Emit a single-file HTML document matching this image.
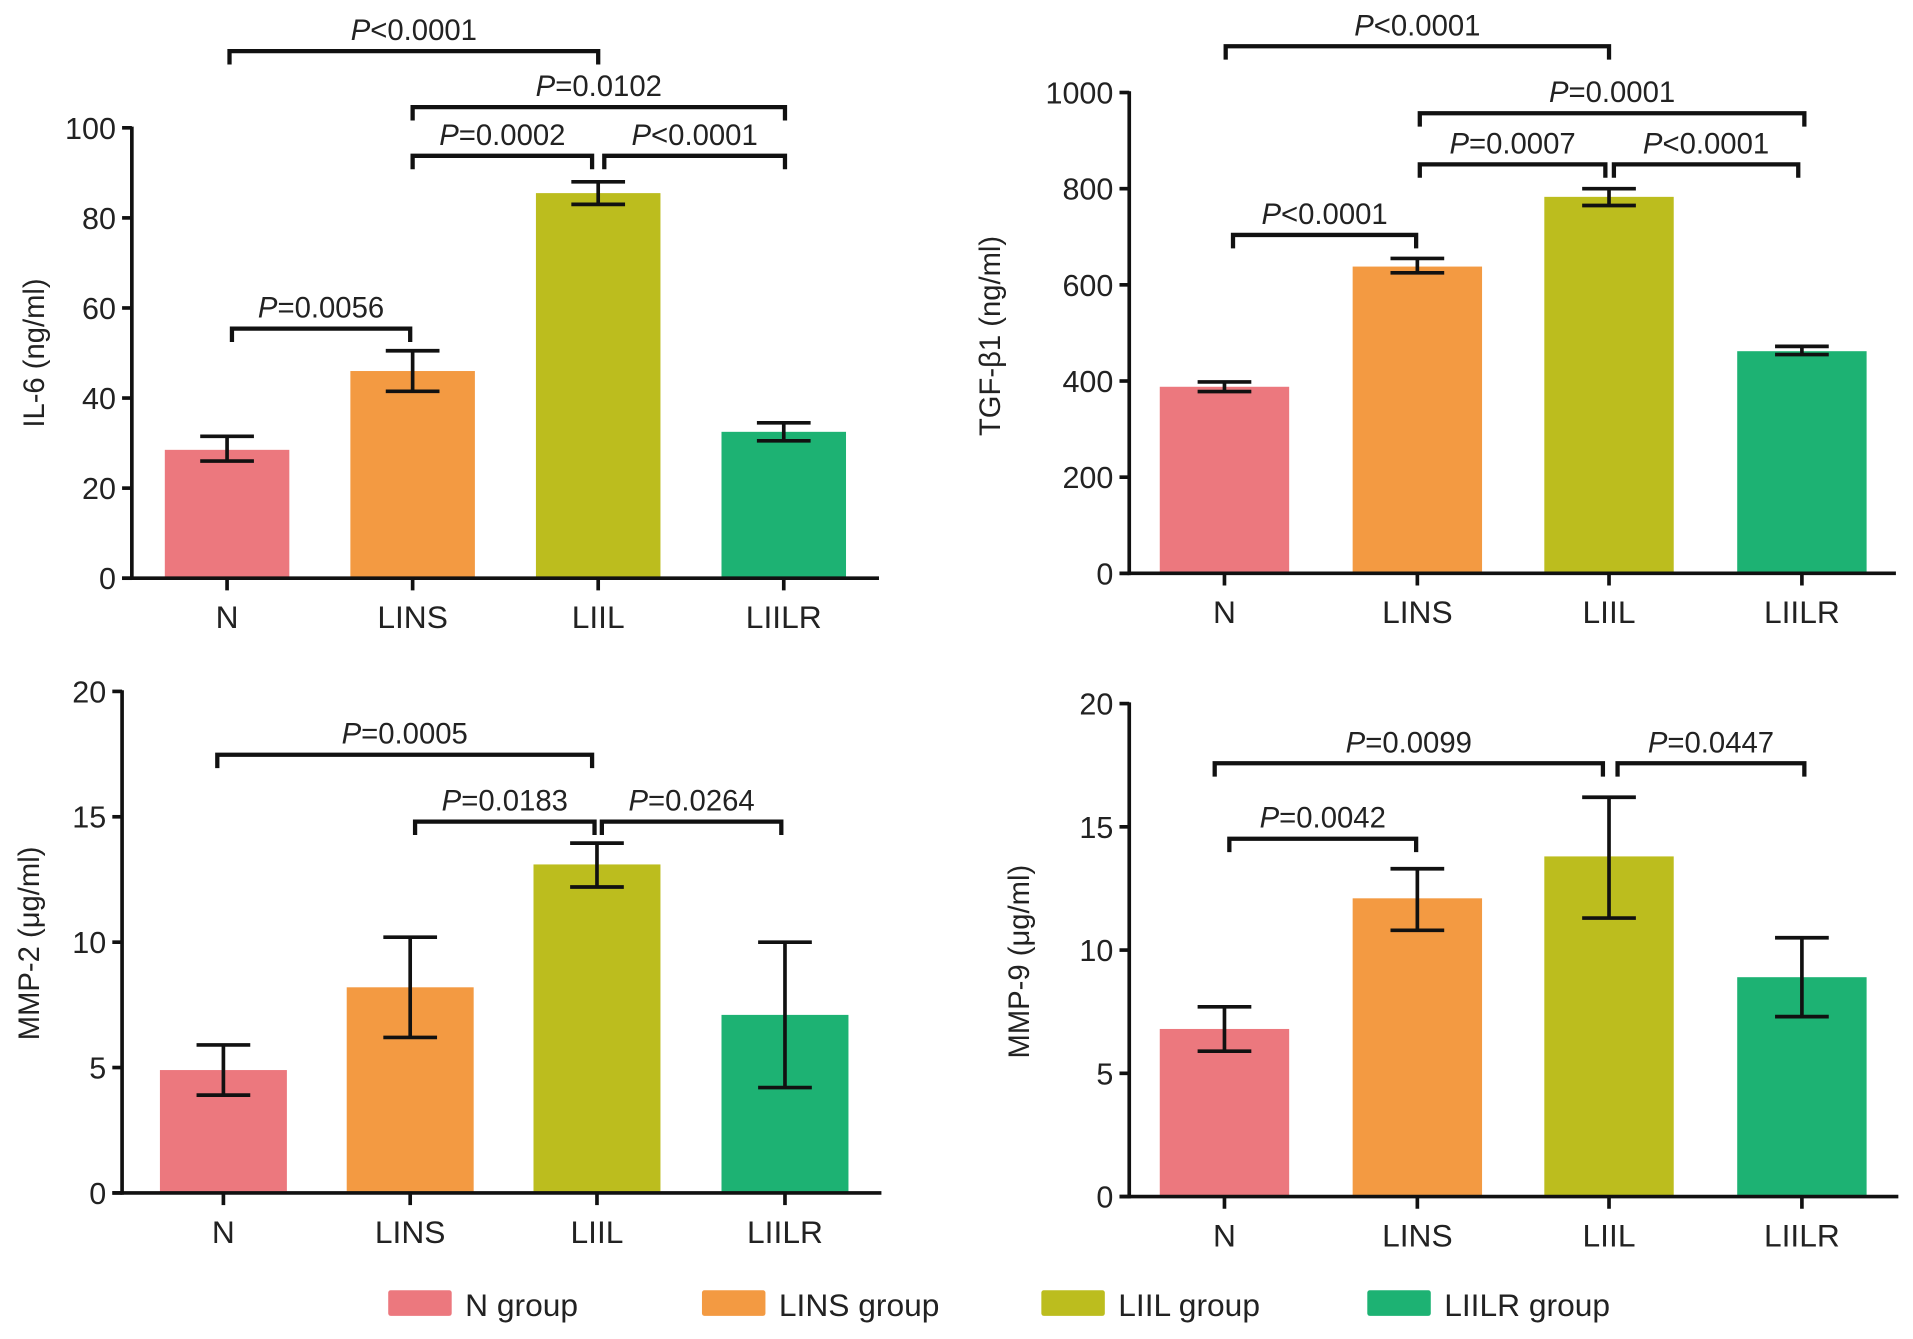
<!DOCTYPE html>
<html><head><meta charset="utf-8"><style>
html,body{margin:0;padding:0;background:#fff;}
svg{display:block;font-family:"Liberation Sans",sans-serif;}
</style></head><body>
<svg id="fig" width="1913" height="1339" viewBox="0 0 1567 1100" preserveAspectRatio="none" xmlns="http://www.w3.org/2000/svg"></svg>
<script>
const categories = ["N","LINS","LIIL","LIILR"];
const groupNames = ["N group","LINS group","LIIL group","LIILR group"];
const colors = ["#ec787e","#f39a42","#bcbd1e","#1db273"];
const il6Means = [28.5,46,85.5,32.5];
const il6Low = [26,41.5,83,30.5];
const il6High = [31.5,50.5,88,34.5];
const il6Ticks = [0,20,40,60,80,100];
const tgfMeans = [388,638,783,462];
const tgfLow = [378,625,765,455];
const tgfHigh = [398,655,800,472];
const tgfTicks = [0,200,400,600,800,1000];
const mmp2Means = [4.9,8.2,13.1,7.1];
const mmp2Low = [3.9,6.2,12.2,4.2];
const mmp2High = [5.9,10.2,13.95,10];
const mmp2Ticks = [0,5,10,15,20];
const mmp9Means = [6.8,12.1,13.8,8.9];
const mmp9Low = [5.9,10.8,11.3,7.3];
const mmp9High = [7.7,13.3,16.2,10.5];
const mmp9Ticks = [0,5,10,15,20];

const NS="http://www.w3.org/2000/svg";
const svg=document.getElementById('fig');
function mk(tag,attrs,parent){const e=document.createElementNS(NS,tag);for(const k in attrs)e.setAttribute(k,attrs[k]);(parent||svg).appendChild(e);return e;}

function panel(cfg){
  const g=mk('g',{});
  
  
  const y=v=>cfg.y0-(v/cfg.max)*(cfg.y0-cfg.y1);
  const xs=cfg.centers;
  cfg.means.forEach((m,i)=>{
    const r=mk('rect',{x:xs[i]-cfg.bw/2,y:y(m),width:cfg.bw,height:cfg.y0-y(m),fill:colors[i]},g);
    
    
    const eg=mk('g',{stroke:'#111','stroke-width':3,fill:'none'},g);
    
    
    mk('line',{x1:xs[i],x2:xs[i],y1:y(cfg.low[i]),y2:y(cfg.high[i])},eg);
    mk('line',{x1:xs[i]-22,x2:xs[i]+22,y1:y(cfg.low[i]),y2:y(cfg.low[i])},eg);
    mk('line',{x1:xs[i]-22,x2:xs[i]+22,y1:y(cfg.high[i]),y2:y(cfg.high[i])},eg);
  });
  const ax=mk('g',{stroke:'#111','stroke-width':3},g);
  
  
  mk('line',{x1:cfg.ax,x2:cfg.ax,y1:cfg.y1-1,y2:cfg.y0+1.5},ax);
  mk('line',{x1:cfg.ax-8,x2:cfg.axEnd,y1:cfg.y0,y2:cfg.y0},ax);
  cfg.ticks.forEach(t=>{
    mk('line',{x1:cfg.ax-8,x2:cfg.ax,y1:y(t),y2:y(t)},ax);
    const tx=mk('text',{x:cfg.ax-13,y:y(t)+9,'text-anchor':'end','font-size':25,fill:'#222'},g);
    tx.textContent=t;
    
    
  });
  xs.forEach((cx,i)=>{
    mk('line',{x1:cx,x2:cx,y1:cfg.y0,y2:cfg.y0+10},ax);
    const tx=mk('text',{x:cx,y:cfg.y0+41,'text-anchor':'middle','font-size':26,fill:'#222'},g);
    tx.textContent=categories[i];
    
    
  });
  const yl=mk('text',{x:0,y:0,transform:`translate(${cfg.labX},${cfg.labY}) rotate(-90)`,'text-anchor':'middle','font-size':24,fill:'#222'},g);
  yl.textContent=cfg.ylabel;
  
  
  cfg.brackets.forEach(b=>{
    const bg=mk('g',{},g);
    
    
    mk('path',{d:`M${b[0]},${b[2]+11}V${b[2]}H${b[1]}V${b[2]+11}`,stroke:'#111','stroke-width':3.5,fill:'none'},bg);
    const t=mk('text',{x:(b[0]+b[1])/2,y:b[2]-9,'text-anchor':'middle','font-size':24,fill:'#222'},bg);
    t.innerHTML='<tspan font-style="italic">P</tspan>'+b[3];
  });
}

panel({name:'il6-chart',ax:108,axEnd:720,y0:475,y1:105,max:100,centers:[186,338,490,642],bw:102,
  means:il6Means,low:il6Low,high:il6High,ticks:il6Ticks,ylabel:'IL-6 (ng/ml)',labX:36,labY:290,
  brackets:[[188,490,42,'<0.0001'],[338,643,88,'=0.0102'],[338,485,128,'=0.0002'],[495,643,128,'<0.0001'],[190,336,270,'=0.0056']]});
panel({name:'tgf-beta1-chart',ax:925,axEnd:1553,y0:471,y1:76,max:1000,centers:[1003,1161,1318,1476],bw:106,
  means:tgfMeans,low:tgfLow,high:tgfHigh,ticks:tgfTicks,ylabel:'TGF-β1 (ng/ml)',labX:819,labY:276,
  brackets:[[1004,1318,38,'<0.0001'],[1163,1478,93,'=0.0001'],[1163,1315,135,'=0.0007'],[1322,1473,135,'<0.0001'],[1010,1160,193,'<0.0001']]});
panel({name:'mmp2-chart',ax:100,axEnd:722,y0:980,y1:568,max:20,centers:[183,336,489,643],bw:104,
  means:mmp2Means,low:mmp2Low,high:mmp2High,ticks:mmp2Ticks,ylabel:'MMP-2 (μg/ml)',labX:32,labY:775,
  brackets:[[178,485,620,'=0.0005'],[340,487,675,'=0.0183'],[493,640,675,'=0.0264']]});
panel({name:'mmp9-chart',ax:925,axEnd:1555,y0:983,y1:578,max:20,centers:[1003,1161,1318,1476],bw:106,
  means:mmp9Means,low:mmp9Low,high:mmp9High,ticks:mmp9Ticks,ylabel:'MMP-9 (μg/ml)',labX:843,labY:790,
  brackets:[[995,1313,627,'=0.0099'],[1325,1478,627,'=0.0447'],[1007,1160,689,'=0.0042']]});

const legendX=[318,575,853,1120];
const lg=mk('g',{});


groupNames.forEach((n,i)=>{
  const e=mk('g',{},lg);
  
  
  mk('rect',{x:legendX[i],y:1060,width:52,height:21,rx:2,fill:colors[i]},e);
  const t=mk('text',{x:legendX[i]+63,y:1081,'font-size':26,fill:'#222'},e);
  t.textContent=n;
});
</script>
</body></html>
